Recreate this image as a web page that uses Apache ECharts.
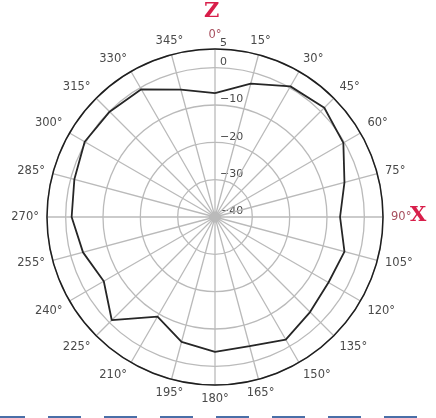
<!DOCTYPE html>
<html>
<head>
<meta charset="utf-8">
<script src="https://cdn.jsdelivr.net/npm/echarts@6/dist/echarts.min.js"></script>
<style>
html,body{margin:0;padding:0;background:#fff;}
#chart{width:436px;height:418px;}
</style>
</head>
<body>
<div id="chart"></div>
<script>
// Angles (degrees, clockwise from Z at top)
const angles = [0, 15, 30, 45, 60, 75, 90, 105, 120, 135, 150, 165,
                180, 195, 210, 225, 240, 255, 270, 285, 300, 315, 330, 345];
// Measured level (dB) at each angle
const gainDb = [-6.8, -3.0, 0.4, 1.4, -0.3, -4.1, -6.5, -4.1, -4.9, -4.0, -2.1, -4.2,
                -3.9, -5.4, -9.2, -0.9, -5.6, -3.4, -1.6, -1.0, 0.3, -0.1, -0.5, -4.7];
// Radial tick range
const radialMin = -40;
const radialMax = 5;
const radialStep = 10;
// Axis titles
const topAxisName = 'Z';
const rightAxisName = 'X';

const lineData = angles.map((a, i) => [gainDb[i], a]);
lineData.push([gainDb[0], 360]);

const chart = echarts.init(document.getElementById('chart'), null, {renderer: 'canvas'});
const gridColor = '#bababa';
chart.setOption({
  backgroundColor: '#ffffff',
  animation: false,
  polar: { center: [215, 217], radius: 168 },
  angleAxis: {
    type: 'value', min: 0, max: 360, interval: 15,
    startAngle: 90, clockwise: true, z: 3,
    axisLine: { lineStyle: { color: '#1e1e1e', width: 1.5 } },
    axisTick: { show: false },
    splitLine: { lineStyle: { color: gridColor, width: 1.3 } },
    axisLabel: {
      margin: 8, fontSize: 11.5, fontFamily: 'DejaVu Sans', color: '#4a4a4a',
      formatter: function (v) {
        if (v === 360) return '';
        if (v === 0 || v === 90) return '{r|' + v + '°}';
        return v + '°';
      },
      rich: { r: { color: '#a8505f', fontSize: 11.5, fontFamily: 'DejaVu Sans' } }
    }
  },
  radiusAxis: {
    type: 'value', min: radialMin, max: radialMax, interval: radialStep, z: 2,
    axisLine: { show: false },
    axisTick: { show: false },
    splitLine: { lineStyle: { color: gridColor, width: 1.3 } },
    axisLabel: {
      margin: -5, align: 'left', verticalAlign: 'bottom',
      fontSize: 11, fontFamily: 'DejaVu Sans', color: '#4a4a4a',
      formatter: function (v) { return (v < 0 ? '\u2212' + Math.abs(v) : '' + v); }
    }
  },
  series: [{
    type: 'line', coordinateSystem: 'polar', data: lineData,
    symbol: 'none', smooth: false, z: 5,
    lineStyle: { color: '#262626', width: 1.8 }
  }],
  graphic: [
    { type: 'text', left: 204, top: 1, z: 10,
      style: { text: topAxisName, fill: '#d81e4a', font: 'bold 21px "DejaVu Serif"' } },
    { type: 'text', left: 410, top: 205, z: 10,
      style: { text: rightAxisName, fill: '#d81e4a', font: 'bold 21px "DejaVu Serif"' } },
    { type: 'line', z: 10,
      shape: { x1: -8, y1: 417, x2: 436, y2: 417 },
      style: { stroke: '#4a6fa8', lineWidth: 2, lineDash: [33, 23] } }
  ]
});
</script>
</body>
</html>
